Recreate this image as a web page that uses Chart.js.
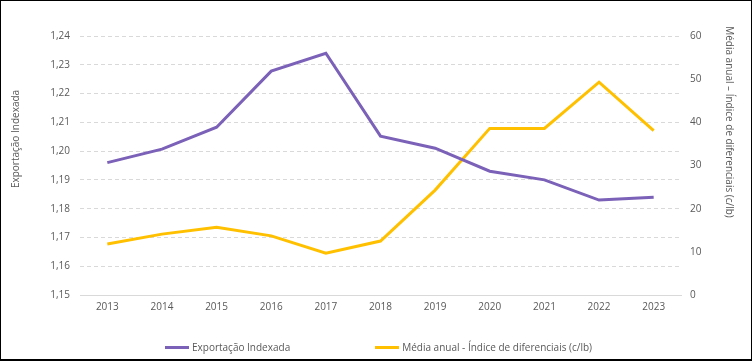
<!DOCTYPE html>
<html>
<head>
<meta charset="utf-8">
<script src="https://cdn.jsdelivr.net/npm/chart.js@4.4.0/dist/chart.umd.min.js"></script>
<style>
  html, body { margin: 0; padding: 0; background: #fff; }
  #frame { position: relative; width: 752px; height: 361px; box-sizing: border-box;
           border: 1px solid #000; border-bottom-width: 2px; overflow: hidden; }
  #myChart { position: absolute; left: -1px; top: -1px; }
  #legend { position: absolute; left: 77px; width: 601px; top: 339px; display: flex;
            justify-content: center; gap: 85px; font: 10px "Open Sans", sans-serif; color: #595959; }
  .item { display: flex; align-items: center; }
  .swatch { width: 24px; height: 3px; margin-right: 3px; }
</style>
</head>
<body>
<div id="frame">
  <canvas id="myChart" width="752" height="362"></canvas>
  <div id="legend"></div>
</div>
<script>
const years = ["2013", "2014", "2015", "2016", "2017", "2018", "2019", "2020", "2021", "2022", "2023"]
const exportacao = [1.196, 1.2007, 1.2083, 1.2278, 1.234, 1.2052, 1.201, 1.193, 1.190, 1.183, 1.184]
const mediaAnual = [11.8, 14.1, 15.7, 13.7, 9.7, 12.5, 24.3, 38.6, 38.6, 49.3, 38.1]

const purple = "#7b61b8"
const gold = "#ffc000"
const grey = "#595959"

Chart.defaults.font.family = "'Open Sans', sans-serif"
Chart.defaults.font.size = 10
Chart.defaults.color = grey

// axis titles, drawn at the spots they sit in the original
const axisTitles = {
  id: "axisTitles",
  afterDraw(chart) {
    const c = chart.ctx
    c.save()
    c.font = "10px 'Open Sans', sans-serif"
    c.fillStyle = grey
    c.textAlign = "center"
    c.textBaseline = "middle"
    c.translate(16, 139)
    c.rotate(-Math.PI / 2)
    c.fillText("Exportação Indexada", 0, 0)
    c.restore()
    c.save()
    c.font = "10px 'Open Sans', sans-serif"
    c.fillStyle = grey
    c.textAlign = "center"
    c.textBaseline = "middle"
    c.translate(729, 122)
    c.rotate(Math.PI / 2)
    c.fillText("Média anual – Índice de diferenciais (c/lb)", 0, 0)
    c.restore()
  }
}

const data = {
  labels: years,
  datasets: [
    {
      label: "Exportação Indexada",
      data: exportacao,
      borderColor: purple,
      backgroundColor: purple,
      borderWidth: 3,
      pointRadius: 0,
      tension: 0,
      yAxisID: "y"
    },
    {
      label: "Média anual - Índice de diferenciais (c/lb)",
      data: mediaAnual,
      borderColor: gold,
      backgroundColor: gold,
      borderWidth: 3,
      pointRadius: 0,
      tension: 0,
      yAxisID: "y1"
    }
  ]
}

const config = {
  type: "line",
  data,
  options: {
    responsive: false,
    animation: false,
    layout: { padding: { top: 36, bottom: 47, left: 0, right: 0 } },
    plugins: { legend: { display: false }, tooltip: { enabled: false } },
    scales: {
      x: {
        offset: true,
        grid: { display: false, drawTicks: false },
        border: { display: true, color: "#d9d9d9", width: 1 },
        ticks: { padding: 6, maxRotation: 0, autoSkip: false },
        afterFit: (s) => { s.height = 20 }
      },
      y: {
        position: "left",
        min: 1.15,
        max: 1.24,
        ticks: {
          stepSize: 0.01,
          padding: 10,
          callback: (v) => v.toFixed(2).replace(".", ",")
        },
        grid: {
          drawTicks: false,
          color: (ctx) => ctx.index === 0 ? "rgba(0,0,0,0)" : "#d9d9d9"
        },
        border: { display: false, dash: [4, 3] },
        afterFit: (s) => { s.width = 80 }
      },
      y1: {
        position: "right",
        min: 0,
        max: 60,
        ticks: { stepSize: 10, padding: 9 },
        grid: { display: false, drawTicks: false },
        border: { display: false },
        afterFit: (s) => { s.width = 71 }
      }
    }
  },
  plugins: [axisTitles]
}

const myChart = new Chart(document.getElementById("myChart"), config)

const legend = document.getElementById("legend")
myChart.data.datasets.forEach((ds) => {
  const item = document.createElement("div")
  item.className = "item"
  item.innerHTML = `<span class="swatch" style="background:${ds.borderColor}"></span><span>${ds.label}</span>`
  legend.appendChild(item)
})
</script>
</body>
</html>
